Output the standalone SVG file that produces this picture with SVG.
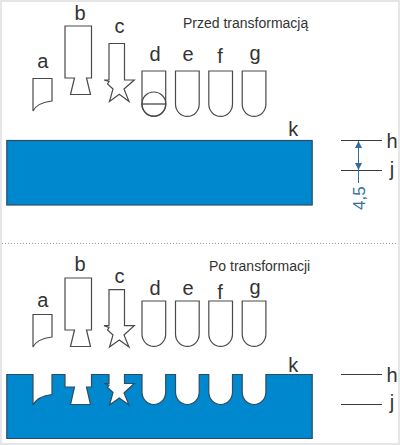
<svg xmlns="http://www.w3.org/2000/svg" width="400" height="445" viewBox="0 0 400 445">
<style>
.bg{fill:#e6e6e6}
.sheet{fill:#fff}
.o{fill:#fff;stroke:#4a4a4a;stroke-width:1.2;stroke-linejoin:miter}
.blk{fill:#0088cf;stroke:#2f4c60;stroke-width:1.2}
.ln{stroke:#3a3a3a;stroke-width:1.2;fill:none}
.dim{stroke:#2e6f9e;stroke-width:1;fill:none}
text{font-family:"Liberation Sans",Arial,sans-serif;fill:#333}
.l{font-size:20px;text-anchor:middle}
.t{font-size:14px}
</style>
<defs>
<marker id="ar" markerUnits="userSpaceOnUse" markerWidth="8" markerHeight="8" refX="7" refY="3.5" orient="auto"><path d="M0 0L7 3.500L0 7z" fill="#2e6f9e"/></marker>
<path id="u" d="M0 0H23.700V33C23.700 40 18.400 45.400 11.850 45.400C5.300 45.400 0 40 0 33z"/>
</defs>
<rect class="bg" width="400" height="445"/>
<rect class="sheet" x="2" y="2" width="396" height="441"/>
<line x1="2" y1="243.500" x2="398" y2="243.500" stroke="#999" stroke-width="1" stroke-dasharray="1 2"/>
<text class="t" x="183" y="28">Przed transformacją</text>
<text class="t" x="209" y="271">Po transformacji</text>
<g id="top-a"><path class="o" d="M33 78.500H52V101C43 102 36 105 33 111z"/><text class="l" x="42.700" y="68">a</text></g>
<g id="top-b"><path class="o" d="M65 26H91.500V78H86.500L90.500 94.500H70.500L74.500 78H65z"/><text class="l" x="80" y="20">b</text></g>
<g id="top-c"><path class="o" d="M109 43.500H124.500V80H134.300L124 89L129 101.500L119.300 94.300L109.500 101.500L113 89L107.500 84L109 81.500L104 80H109z"/><text class="l" x="119.500" y="33">c</text></g>
<g id="top-d"><use href="#u" class="o" x="142" y="71"/><circle class="o" cx="153.850" cy="104" r="12" style="fill:none"/><line class="ln" x1="142" y1="104" x2="165.700" y2="104"/><text class="l" x="155" y="61">d</text></g>
<g id="top-e"><use href="#u" class="o" x="175.500" y="71"/><text class="l" x="188" y="61">e</text></g>
<g id="top-f"><use href="#u" class="o" x="208.800" y="71"/><text class="l" x="220" y="63">f</text></g>
<g id="top-g"><use href="#u" class="o" x="242.200" y="71"/><text class="l" x="255" y="60">g</text></g>
<g id="top-block"><rect class="blk" x="6.800" y="140.500" width="305.400" height="64.500"/><text class="l" x="293.300" y="136">k</text></g>
<g id="connectors">
<line class="ln" x1="341" y1="140.500" x2="382" y2="140.500"/>
<line class="ln" x1="341" y1="170.500" x2="382" y2="170.500"/>
<line class="dim" x1="358.500" y1="170" x2="358.500" y2="141" marker-end="url(#ar)"/>
<line class="dim" x1="358.500" y1="142" x2="358.500" y2="170" marker-end="url(#ar)"/>
<line class="dim" x1="358.500" y1="170" x2="358.500" y2="183"/>
<line class="ln" x1="341" y1="374.500" x2="382" y2="374.500"/>
<line class="ln" x1="341" y1="404.500" x2="382" y2="404.500"/>
</g>
<text x="0" y="0" transform="translate(365 210) rotate(-90)" font-size="17" style="fill:#2e6f9e">4,5</text>
<text class="l" x="392" y="148">h</text>
<text class="l" x="392" y="176">j</text>
<text class="l" x="392" y="382">h</text>
<text class="l" x="392" y="409">j</text>
<g id="bot-a"><path class="o" d="M33 314.500H52V337C43 338 36 341 33 347z"/><text class="l" x="42.700" y="307">a</text></g>
<g id="bot-b"><path class="o" d="M65 278H91.500V330H86.500L90.500 346.500H70.500L74.500 330H65z"/><text class="l" x="80" y="271">b</text></g>
<g id="bot-c"><path class="o" d="M109 289.700H124.500V325.700H134.300L124 335L129 347L119.300 340L109.500 347L113 335L107.500 330L109 327.500L104 325.700H109z"/><text class="l" x="119.500" y="283">c</text></g>
<g id="bot-d"><use href="#u" class="o" x="142" y="301"/><text class="l" x="155" y="295">d</text></g>
<g id="bot-e"><use href="#u" class="o" x="175.500" y="301"/><text class="l" x="188" y="295">e</text></g>
<g id="bot-f"><use href="#u" class="o" x="208.800" y="301"/><text class="l" x="220" y="299">f</text></g>
<g id="bot-g"><use href="#u" class="o" x="242.200" y="301"/><text class="l" x="255" y="294">g</text></g>
<g id="bot-block"><path class="blk" d="M6.800 374.500H33V405C36 399 43 395.500 52 394.500V374.500H65V387H74.500L70.500 404.500H90.500L86.500 387H91.500V374.500H109V383.500H104L109 385L107.500 387.500L113 392.500L109.500 405L119.300 398L129 405L124 393L134.300 383.500H124.500V374.500H142V392C142 399 147.300 404.500 153.850 404.500C160.400 404.500 165.700 399 165.700 392V374.500H175.500V392C175.500 399 180.800 404.500 187.350 404.500C193.900 404.500 199.200 399 199.200 392V374.500H208.800V392C208.800 399 214.100 404.500 220.650 404.500C227.200 404.500 232.500 399 232.500 392V374.500H242.200V392C242.200 399 247.500 404.500 254.050 404.500C260.600 404.500 265.900 399 265.900 392V374.500H312.200V438.500H6.800z"/><text class="l" x="293.300" y="372">k</text></g>
</svg>
